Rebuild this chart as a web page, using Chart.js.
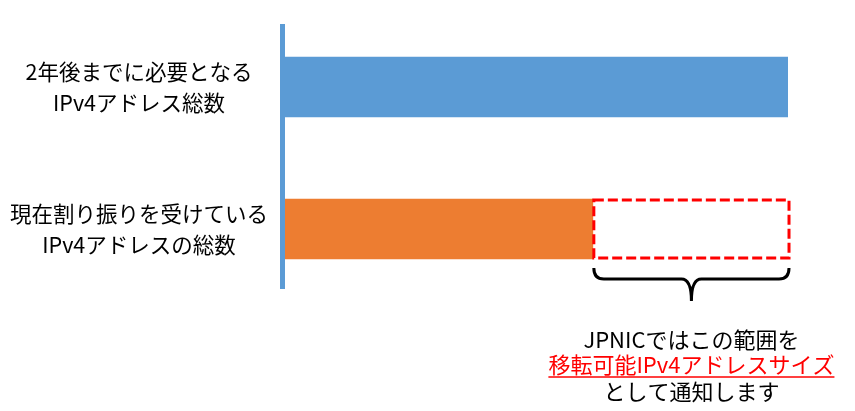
<!DOCTYPE html>
<html>
<head>
<meta charset="utf-8">
<script src="https://cdn.jsdelivr.net/npm/chart.js@4.4.0/dist/chart.umd.min.js"></script>
<style>
  body { margin: 0; background: #fff; }
  #wrap { width: 855px; height: 411px; position: relative; }
</style>
</head>
<body>
<div id="wrap"><canvas id="chart"></canvas></div>
<script>
const categories = [
  ['2年後までに必要となる', 'IPv4アドレス総数'],
  ['現在割り振りを受けている', 'IPv4アドレスの総数']
];
const requiredTotal = [100, null];
const allocatedTotal = [null, 61.2];
const transferableRange = [null, [61.2, 100.4]];
const noteLines = ['JPNICではこの範囲を', '移転可能IPv4アドレスサイズ', 'として通知します'];

const jpFont = '"Noto Sans CJK JP", "Noto Sans", sans-serif';

const decorPlugin = {
  id: 'decor',
  afterDatasetsDraw(chart) {
    const ctx = chart.ctx;
    const area = chart.chartArea;

    // vertical axis line
    ctx.save();
    ctx.strokeStyle = '#5B9BD5';
    ctx.lineWidth = 5;
    ctx.beginPath();
    ctx.moveTo(area.left - 2.5, area.top + 8);
    ctx.lineTo(area.left - 2.5, area.bottom - 11);
    ctx.stroke();
    ctx.restore();

    // dashed box around the transferable range
    const el = chart.getDatasetMeta(2).data[1];
    if (!el) return;
    const left = Math.min(el.base, el.x);
    const right = Math.max(el.base, el.x);
    const top = el.y - el.height / 2;
    const bottom = el.y + el.height / 2;
    ctx.save();
    ctx.strokeStyle = '#FF0000';
    ctx.lineWidth = 3;
    ctx.setLineDash([10, 4]);
    ctx.strokeRect(left + 1, top + 1, right - left - 2, bottom - top - 2);
    ctx.restore();

    // curly brace under the box
    const mid = (left + right) / 2;
    const y0 = bottom + 9;
    const y1 = y0 + 11;
    const tip = y0 + 33;
    ctx.save();
    ctx.strokeStyle = '#000';
    ctx.lineWidth = 3;
    ctx.beginPath();
    ctx.moveTo(left + 1, y0);
    ctx.quadraticCurveTo(left + 1, y1, left + 11, y1);
    ctx.lineTo(mid - 10, y1);
    ctx.quadraticCurveTo(mid, y1, mid, tip);
    ctx.quadraticCurveTo(mid, y1, mid + 10, y1);
    ctx.lineTo(right - 11, y1);
    ctx.quadraticCurveTo(right - 1, y1, right - 1, y0);
    ctx.stroke();
    ctx.restore();

    // note text
    ctx.save();
    ctx.font = '22px ' + jpFont;
    ctx.textAlign = 'center';
    ctx.textBaseline = 'middle';
    const ys = [bottom + 81, bottom + 106, bottom + 133];
    noteLines.forEach((t, i) => {
      ctx.fillStyle = i === 1 ? '#FF0000' : '#000';
      ctx.fillText(t, mid, ys[i]);
      if (i === 1) {
        const w = ctx.measureText(t).width;
        ctx.strokeStyle = '#FF0000';
        ctx.lineWidth = 1.5;
        ctx.beginPath();
        ctx.moveTo(mid - w / 2, ys[i] + 12);
        ctx.lineTo(mid + w / 2, ys[i] + 12);
        ctx.stroke();
      }
    });
    ctx.restore();
  }
};

new Chart(document.getElementById('chart').getContext('2d'), {
  type: 'bar',
  data: {
    labels: categories,
    datasets: [{
      data: requiredTotal,
      backgroundColor: '#5B9BD5',
      barThickness: 60,
      grouped: false,
    }, {
      data: allocatedTotal,
      backgroundColor: '#ED7D31',
      barThickness: 60,
      grouped: false,
    }, {
      data: transferableRange,
      backgroundColor: 'rgba(0,0,0,0)',
      barThickness: 60,
      grouped: false,
    }],
  },
  options: {
    indexAxis: 'y',
    responsive: true,
    maintainAspectRatio: false,
    animation: false,
    layout: {
      padding: { left: 0, right: 67, top: 16, bottom: 111 },
    },
    plugins: {
      legend: { display: false },
      tooltip: { enabled: false },
    },
    scales: {
      x: {
        display: false,
        min: 0,
        max: 100,
      },
      y: {
        afterFit(scale) {
          scale.width = 285;
          scale.paddingTop = 0;
          scale.paddingBottom = 0;
        },
        grid: { display: false, drawTicks: false },
        border: { display: false },
        ticks: {
          crossAlign: 'center',
          padding: 17,
          color: '#000',
          font: { family: jpFont, size: 21.5, lineHeight: 1.45 },
        },
      },
    },
  },
  plugins: [decorPlugin],
});
</script>
</body>
</html>
